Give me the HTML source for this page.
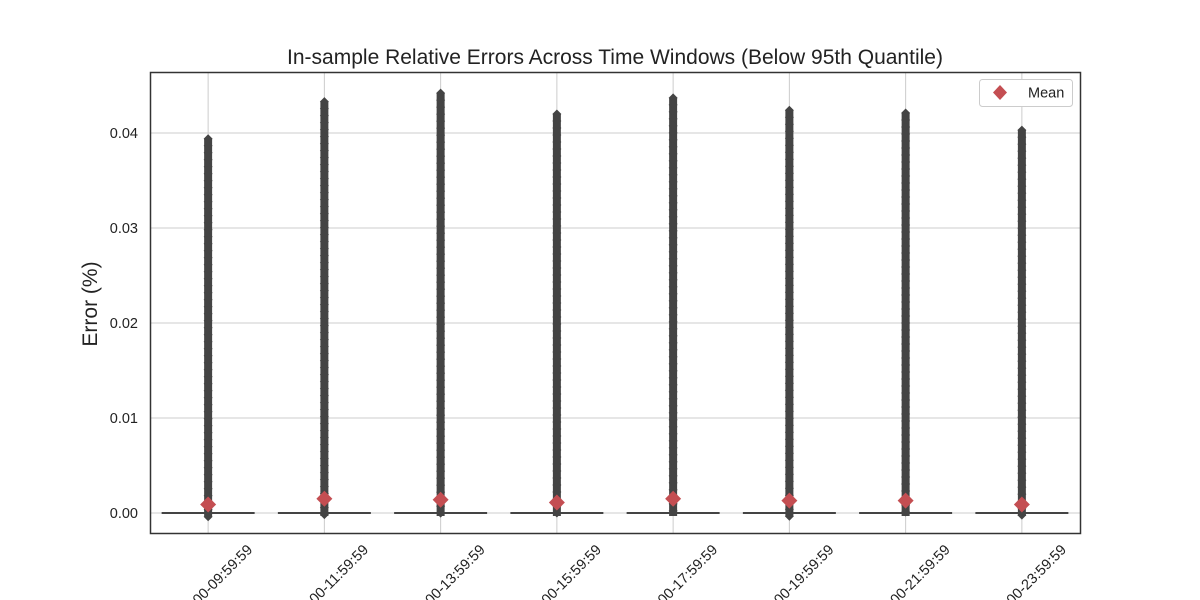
<!DOCTYPE html>
<html><head><meta charset="utf-8"><style>
html,body{margin:0;background:#fff;width:1200px;height:600px;overflow:hidden;}
svg{display:block;}
svg text{font-family:"Liberation Sans","DejaVu Sans",sans-serif;}
</style></head><body>
<svg id="c" width="1200" height="600" overflow="hidden">
<rect width="1200" height="600" fill="#fff"/>
<text x="615" y="64" text-anchor="middle" font-size="21" fill="#222">In-sample Relative Errors Across Time Windows (Below 95th Quantile)</text>
<text transform="translate(97,304) rotate(-90)" text-anchor="middle" font-size="21" fill="#222">Error (%)</text>
<g id="grid"></g><g id="marks"></g><g id="xt"></g>
<rect x="150.5" y="72.5" width="930" height="461" fill="none" stroke="#333" stroke-width="1.5"/>
<g>
<rect x="979.5" y="79.5" width="93" height="27" rx="3" fill="#fff" stroke="#ccc"/>
<path d="M1000,85 L1007,92.5 L1000,100 L993,92.5Z" fill="#c44e52"/>
<text x="1028" y="97.5" font-size="14.5" fill="#222">Mean</text>
</g>
</svg>
<script>
const categories=["08:00:00-09:59:59","10:00:00-11:59:59","12:00:00-13:59:59","14:00:00-15:59:59","16:00:00-17:59:59","18:00:00-19:59:59","20:00:00-21:59:59","22:00:00-23:59:59"];
const outlierMax=[0.0394,0.0433,0.0442,0.0420,0.0437,0.0424,0.0421,0.0403];
const means=[0.0009,0.0015,0.0014,0.0011,0.0015,0.0013,0.0013,0.0009];
const medians=[0,0,0,0,0,0,0,0];
const yTicks=[0,0.01,0.02,0.03,0.04];
const yTickLabels=["0.00","0.01","0.02","0.03","0.04"];
const NS="http://www.w3.org/2000/svg";
const L=150,R=1080,T=72,B=534;
const bw=(R-L)/categories.length;
const xs=i=>L+bw*(i+0.5);
const ys=v=>513-v*9500;
function mk(t,a,p){const e=document.createElementNS(NS,t);for(const k in a)e.setAttribute(k,a[k]);p.appendChild(e);return e;}
const grid=document.getElementById('grid'),marks=document.getElementById('marks'),xt=document.getElementById('xt');
yTicks.forEach((v,i)=>{
 const l=mk('line',{x1:L,x2:R,y1:ys(v),y2:ys(v),stroke:'#ccc','stroke-width':1},grid);
 
 
 const t=mk('text',{x:L-12,y:ys(v)+5,'text-anchor':'end','font-size':14.5,fill:'#222'},grid);
 t.textContent=yTickLabels[i];
 
 
});
categories.forEach((c,i)=>{
 const x=xs(i);
 const g=mk('line',{x1:x,x2:x,y1:T,y2:B,stroke:'#ccc','stroke-width':1},grid);
 
 
 const top=ys(outlierMax[i]);
 const col=mk('rect',{x:x-4,y:top,width:8,height:ys(0)-top+3,fill:'#444'},marks);
 
 
 for(let y=top;y<ys(0)+4;y+=7){
  mk('path',{d:`M${x},${y-4.5} L${x+4.5},${y} L${x},${y+4.5} L${x-4.5},${y}Z`,fill:'#444'},marks);
 }
 const med=mk('line',{x1:x-bw*0.4,x2:x+bw*0.4,y1:ys(medians[i]),y2:ys(medians[i]),stroke:'#444','stroke-width':2},marks);
 
 
 const my=ys(means[i]);
 const m=mk('path',{d:`M${x},${my-8} L${x+8},${my} L${x},${my+8} L${x-8},${my}Z`,fill:'#c44e52'},marks);
 
 
 const t=mk('text',{'text-anchor':'middle','font-size':14.5,fill:'#222'},xt);
 t.textContent=c;
 
 
 const len=t.getComputedTextLength();
 const cy=B+8+len*0.354+5;
 t.setAttribute('transform',`translate(${x},${cy}) rotate(-45)`);
 t.setAttribute('y',5);
});
</script>
</body></html>
